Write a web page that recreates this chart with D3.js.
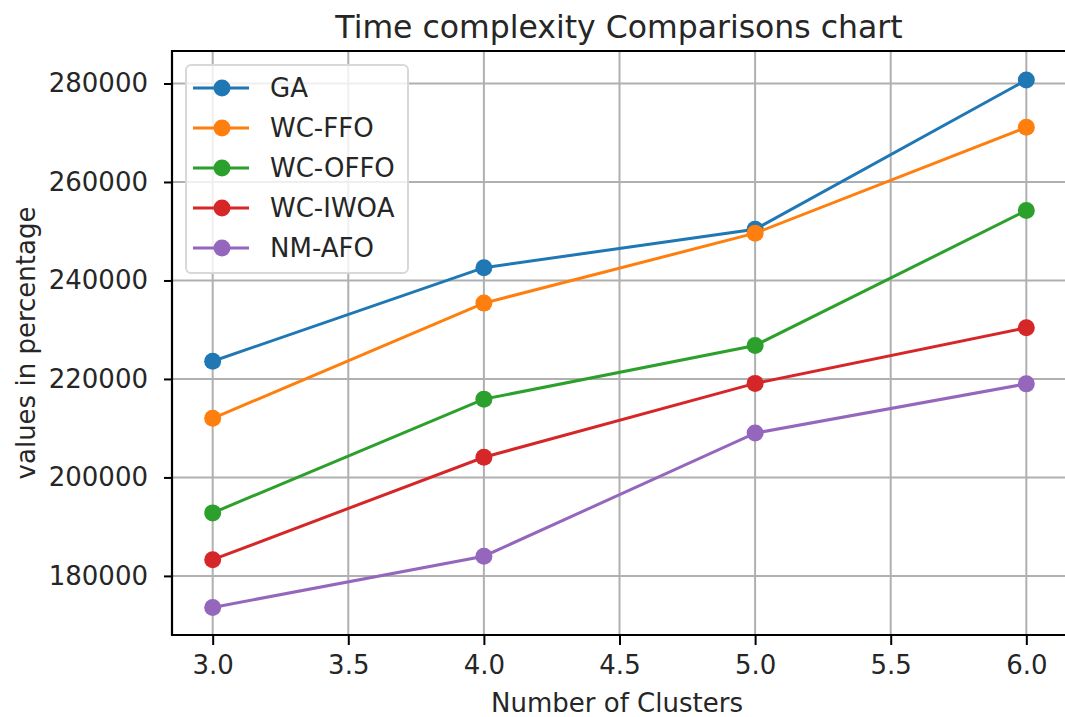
<!DOCTYPE html>
<meta charset="utf-8">
<style>
body { margin: 0; background: #fff; overflow: hidden; }
text { font-family: "DejaVu Sans", sans-serif; fill: #262626; }
</style>
<body>
<script src="https://d3js.org/d3.v7.min.js"></script>
<script>
var clusters = [3, 4, 5, 6];
var seriesNames = ["GA", "WC-FFO", "WC-OFFO", "WC-IWOA", "NM-AFO"];
var colors = ["#1f77b4", "#ff7f0e", "#2ca02c", "#d62728", "#9467bd"];
var gaValues = [223600, 242600, 250400, 280700];
var ffoValues = [212000, 235400, 249600, 271100];
var offoValues = [192800, 215900, 226800, 254200];
var iwoaValues = [183300, 204100, 219100, 230400];
var afoValues = [173600, 184000, 209000, 219000];
var allValues = [gaValues, ffoValues, offoValues, iwoaValues, afoValues];
var xTicks = [3.0, 3.5, 4.0, 4.5, 5.0, 5.5, 6.0];
var yTicks = [180000, 200000, 220000, 240000, 260000, 280000];

var W = 1065, H = 717;
// plot box (right edge falls just outside the picture, as in the source)
var pLeft = 172, pRight = 1067, pTop = 51, pBottom = 635;

var svg = d3.select("body").append("svg").attr("width", W).attr("height", H)
  .style("display", "block");

var x = d3.scaleLinear().domain([2.85, 6.15]).range([pLeft, pRight]);
var y = d3.scaleLinear().domain([168000, 286600]).range([pBottom, pTop]);

// grid
svg.append("g").selectAll("line").data(xTicks).join("line")
  .attr("x1", d => x(d)).attr("x2", d => x(d))
  .attr("y1", pTop).attr("y2", pBottom)
  .attr("stroke", "#b0b0b0").attr("stroke-width", 2);
svg.append("g").selectAll("line").data(yTicks).join("line")
  .attr("y1", d => y(d)).attr("y2", d => y(d))
  .attr("x1", pLeft).attr("x2", W + 20)
  .attr("stroke", "#b0b0b0").attr("stroke-width", 2);

// axes
var xAxis = d3.axisBottom(x).tickValues(xTicks).tickFormat(d3.format(".1f")).tickSize(10).tickPadding(11);
var yAxis = d3.axisLeft(y).tickValues(yTicks).tickFormat(d3.format("d")).tickSize(8).tickPadding(16);
var gx = svg.append("g").attr("transform", "translate(0," + pBottom + ")").call(xAxis);
var gy = svg.append("g").attr("transform", "translate(" + pLeft + ",0)").call(yAxis);
[gx, gy].forEach(function(g) {
  g.select(".domain").remove();
  g.selectAll(".tick line").attr("stroke", "#000").attr("stroke-width", 2);
  g.selectAll(".tick text").style("font-size", "26px").attr("fill", "#262626")
    .style("font-family", "DejaVu Sans, sans-serif");
});

// frame: top, left and bottom spines (right one is outside the picture)
svg.append("path")
  .attr("d", "M" + (W + 20) + "," + pTop + "H" + pLeft + "V" + pBottom + "H" + (W + 20))
  .attr("fill", "none").attr("stroke", "#000").attr("stroke-width", 2.2);

// series
var line = d3.line().x((d, i) => x(clusters[i])).y(d => y(d));
allValues.forEach(function(vals, k) {
  svg.append("path").datum(vals).attr("d", line)
    .attr("fill", "none").attr("stroke", colors[k]).attr("stroke-width", 3);
  svg.append("g").selectAll("circle").data(vals).join("circle")
    .attr("cx", (d, i) => x(clusters[i])).attr("cy", d => y(d))
    .attr("r", 8.5).attr("fill", colors[k]);
});

// legend
var lg = svg.append("g");
lg.append("rect").attr("x", 186).attr("y", 65).attr("width", 222).attr("height", 208)
  .attr("rx", 5).attr("fill", "#fff").attr("fill-opacity", 0.8)
  .attr("stroke", "#d8d8d8").attr("stroke-width", 2);
seriesNames.forEach(function(name, k) {
  var ly = 88 + k * 40;
  lg.append("line").attr("x1", 193).attr("x2", 249).attr("y1", ly).attr("y2", ly)
    .attr("stroke", colors[k]).attr("stroke-width", 3);
  lg.append("circle").attr("cx", 222).attr("cy", ly).attr("r", 8.5).attr("fill", colors[k]);
  lg.append("text").attr("x", 270).attr("y", ly).attr("dy", "0.35em")
    .style("font-size", "26px").text(name);
});

// titles
svg.append("text").attr("x", 619).attr("y", 38).attr("text-anchor", "middle")
  .style("font-size", "31.5px").text("Time complexity Comparisons chart");
svg.append("text").attr("x", 617).attr("y", 712).attr("text-anchor", "middle")
  .style("font-size", "26px").text("Number of Clusters");
svg.append("text").attr("transform", "translate(35,343) rotate(-90)").attr("text-anchor", "middle")
  .style("font-size", "26px").text("values in percentage");
</script>
</body>
